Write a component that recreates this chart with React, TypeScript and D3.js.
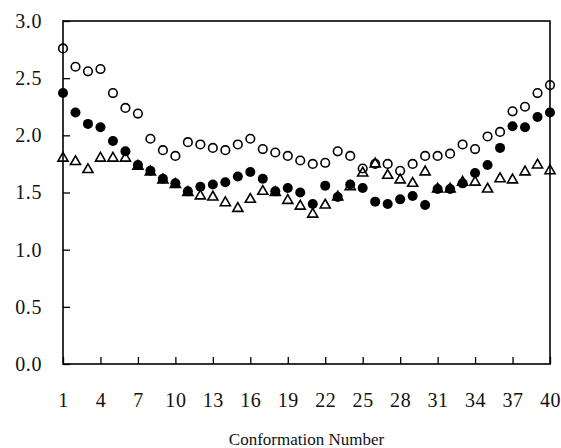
import React, { useRef, useEffect } from "react";
import * as d3 from "d3";

// conformation numbers 1..40
const conformations = d3.range(1, 41);

// open circles
const openSeries = [
  2.76, 2.6, 2.56, 2.58, 2.37, 2.24, 2.19, 1.97, 1.87, 1.82,
  1.94, 1.92, 1.89, 1.87, 1.92, 1.97, 1.88, 1.85, 1.82, 1.78,
  1.75, 1.76, 1.86, 1.82, 1.71, 1.75, 1.75, 1.69, 1.75, 1.82,
  1.82, 1.84, 1.92, 1.88, 1.99, 2.03, 2.21, 2.25, 2.37, 2.44,
];

// filled circles
const filledSeries = [
  2.37, 2.2, 2.1, 2.07, 1.95, 1.86, 1.74, 1.69, 1.62, 1.58,
  1.51, 1.55, 1.57, 1.59, 1.64, 1.68, 1.62, 1.51, 1.54, 1.5,
  1.4, 1.56, 1.46, 1.57, 1.54, 1.42, 1.4, 1.44, 1.47, 1.39,
  1.53, 1.53, 1.58, 1.67, 1.74, 1.89, 2.08, 2.07, 2.16, 2.2,
];

// open triangles
const triangleSeries = [
  1.8, 1.77, 1.7, 1.8, 1.8, 1.8, 1.73, 1.68, 1.61, 1.57,
  1.5, 1.47, 1.46, 1.41, 1.36, 1.44, 1.51, 1.5, 1.43, 1.38,
  1.31, 1.39, 1.46, 1.55, 1.67, 1.75, 1.65, 1.61, 1.58, 1.68,
  1.53, 1.53, 1.59, 1.59, 1.53, 1.62, 1.61, 1.68, 1.74, 1.69,
];

const xTicks = [1, 4, 7, 10, 13, 16, 19, 22, 25, 28, 31, 34, 37, 40];
const yTicks = [0, 0.5, 1.0, 1.5, 2.0, 2.5, 3.0];

const xLabel = "Conformation Number";

const FONT = "Liberation Serif, Times New Roman, serif";

const App = () => {
  const svgRef = useRef<SVGSVGElement>(null);

  useEffect(() => {
    const width = 561;
    const height = 448;
    const margin = { top: 21, right: 11, bottom: 84, left: 63 };

    const svg = d3.select(svgRef.current);
    svg.selectAll("*").remove();
    svg
      .attr("width", width)
      .attr("height", height)
      .attr("font-family", FONT)
      .style("background", "#fff");

    const x = d3
      .scaleLinear()
      .domain([1, 40])
      .range([margin.left, width - margin.right]);

    const y = d3
      .scaleLinear()
      .domain([0, 3])
      .range([height - margin.bottom, margin.top]);

    // Axes (ticks point inward)
    const gx = svg
      .append("g")
      .attr("transform", `translate(0,${height - margin.bottom})`)
      .call(
        d3
          .axisBottom(x)
          .tickValues(xTicks)
          .tickSizeInner(-7)
          .tickSizeOuter(0)
          .tickPadding(29)
          .tickFormat(d3.format("d"))
      );

    const gy = svg
      .append("g")
      .attr("transform", `translate(${margin.left},0)`)
      .call(
        d3
          .axisLeft(y)
          .tickValues(yTicks)
          .tickSizeInner(-7)
          .tickSizeOuter(0)
          .tickPadding(21)
          .tickFormat(d3.format(".1f"))
      );

    [gx, gy].forEach((g) => {
      g.attr("font-family", FONT).attr("font-size", 20);
      g.select(".domain").remove();
      g.selectAll(".tick line").attr("stroke", "#000").attr("stroke-width", 1.3);
      g.selectAll(".tick text").attr("fill", "#111").attr("letter-spacing", 0.6);
    });

    // Frame
    svg
      .append("rect")
      .attr("x", margin.left)
      .attr("y", margin.top)
      .attr("width", width - margin.right - margin.left)
      .attr("height", height - margin.bottom - margin.top)
      .attr("fill", "none")
      .attr("stroke", "#000")
      .attr("stroke-width", 1.6);

    // Triangles
    const tri = d3.symbol().type(d3.symbolTriangle).size(44);
    svg
      .append("g")
      .selectAll("path")
      .data(triangleSeries)
      .enter()
      .append("path")
      .attr("d", tri)
      .attr("transform", (d, i) => `translate(${x(conformations[i])},${y(d)})`)
      .attr("fill", "none")
      .attr("stroke", "#000")
      .attr("stroke-width", 1.6);

    // Filled circles
    svg
      .append("g")
      .selectAll("circle")
      .data(filledSeries)
      .enter()
      .append("circle")
      .attr("cx", (d, i) => x(conformations[i]))
      .attr("cy", (d) => y(d))
      .attr("r", 5)
      .attr("fill", "#000");

    // Open circles
    svg
      .append("g")
      .selectAll("circle")
      .data(openSeries)
      .enter()
      .append("circle")
      .attr("cx", (d, i) => x(conformations[i]))
      .attr("cy", (d) => y(d))
      .attr("r", 4.3)
      .attr("fill", "none")
      .attr("stroke", "#000")
      .attr("stroke-width", 1.6);

    // X axis title
    svg
      .append("text")
      .attr("x", (margin.left + width - margin.right) / 2)
      .attr("y", 445)
      .attr("text-anchor", "middle")
      .attr("font-size", 17)
      .attr("fill", "#111")
      .text(xLabel);
  }, []);

  return (
    <div>
      <svg ref={svgRef} style={{ position: "absolute", left: 0, top: 0 }}></svg>
    </div>
  );
};

export default App;
